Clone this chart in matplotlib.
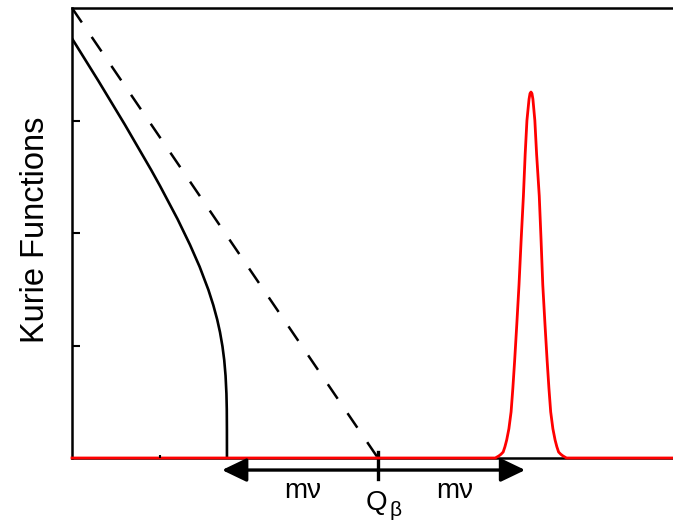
import numpy as np
import matplotlib
matplotlib.use("Agg")
import matplotlib.pyplot as plt

plt.rcParams['font.family'] = ['Liberation Sans', 'DejaVu Sans']

# values (x in energy units, y in Kurie units)
x_max = 6.83
q_beta = 3.477

# massless Kurie line: straight from top-left corner down to Q_beta
dash_x = [0.0, q_beta]
dash_y = [4.0, 0.0]

# Kurie function with neutrino mass
solid_x = [0.0, 0.3, 0.6, 0.9, 1.0, 1.2, 1.341, 1.45, 1.55, 1.606, 1.65, 1.682,
           1.71, 1.73, 1.745, 1.755, 1.759, 1.7605, 1.761]
solid_y = [3.729, 3.352, 2.964, 2.560, 2.419, 2.123, 1.895, 1.701, 1.495, 1.358, 1.231, 1.118,
           0.992, 0.870, 0.732, 0.572, 0.433, 0.25, 0.0]

# detector response (red): flat baseline plus a narrow peak
red_x = [0.0, 4.81, 4.85, 4.875, 4.90, 4.92, 4.94, 4.965, 4.99, 5.01, 5.03, 5.055, 5.08, 5.105,
         5.13, 5.15, 5.17, 5.194, 5.205, 5.216, 5.227, 5.238, 5.26, 5.28, 5.31, 5.33, 5.35,
         5.375, 5.40, 5.42, 5.44, 5.465, 5.49, 5.51, 5.53, 5.555, 5.58, 5.62, x_max]
red_y = [0.0, 0.0, 0.018, 0.033, 0.053, 0.10, 0.16, 0.26, 0.41, 0.62, 0.86, 1.19, 1.54, 1.95,
         2.33, 2.70, 3.0, 3.19, 3.24, 3.253, 3.24, 3.19, 3.0, 2.70, 2.33, 1.95, 1.54,
         1.19, 0.86, 0.62, 0.41, 0.26, 0.16, 0.10, 0.053, 0.033, 0.018, 0.0, 0.0]

arrow_left = 1.705
arrow_right = 5.15
arrow_y = -0.107

fig = plt.figure(figsize=(6.73, 5.2), dpi=100)
ax = fig.add_axes([72/673, 62/520, 601/673, 450/520])

ax.plot(dash_x, dash_y, color='black', lw=1.8, linestyle=(0, (7, 7)))
ax.plot(solid_x, solid_y, color='black', lw=1.9)
ax.plot(red_x, red_y, color='red', lw=2.0, zorder=3, clip_on=False)

ax.set_xlim(0, x_max)
ax.set_ylim(0, 4)
ax.set_xticks([1])
ax.set_yticks([1, 2, 3])
ax.tick_params(direction='in', width=1.5, labelbottom=False, labelleft=False)
ax.tick_params(axis='y', length=6)
ax.tick_params(axis='x', length=2)
ax.xaxis.set_zorder(4)
for s in ['left', 'top', 'bottom']:
    ax.spines[s].set_linewidth(1.8)
ax.spines['right'].set_visible(False)

ax.set_ylabel('Kurie Functions', fontsize=23.5)
ax.yaxis.set_label_coords(-0.035, 0.507)

# m_nu arrows out of Q_beta
head = dict(arrowstyle='-|>,head_length=0.75,head_width=0.36', color='black',
            lw=2.4, mutation_scale=20, shrinkA=0, shrinkB=0)
ax.annotate('', xy=(arrow_left, arrow_y), xytext=(q_beta, arrow_y),
            arrowprops=head, annotation_clip=False)
ax.annotate('', xy=(arrow_right, arrow_y), xytext=(q_beta, arrow_y),
            arrowprops=head, annotation_clip=False)
ax.plot([q_beta, q_beta], [0.05, -0.185], color='black', lw=2.4, clip_on=False)

ax.text(2.62, -0.29, 'mν', fontsize=20, ha='center', va='center')
ax.text(4.35, -0.29, 'mν', fontsize=20, ha='center', va='center')
ax.text(q_beta - 0.02, -0.40, 'Q', fontsize=20, ha='center', va='center')
ax.text(q_beta + 0.195, -0.465, 'β', fontsize=15, ha='center', va='center')

fig.savefig('out.png', dpi=100)
